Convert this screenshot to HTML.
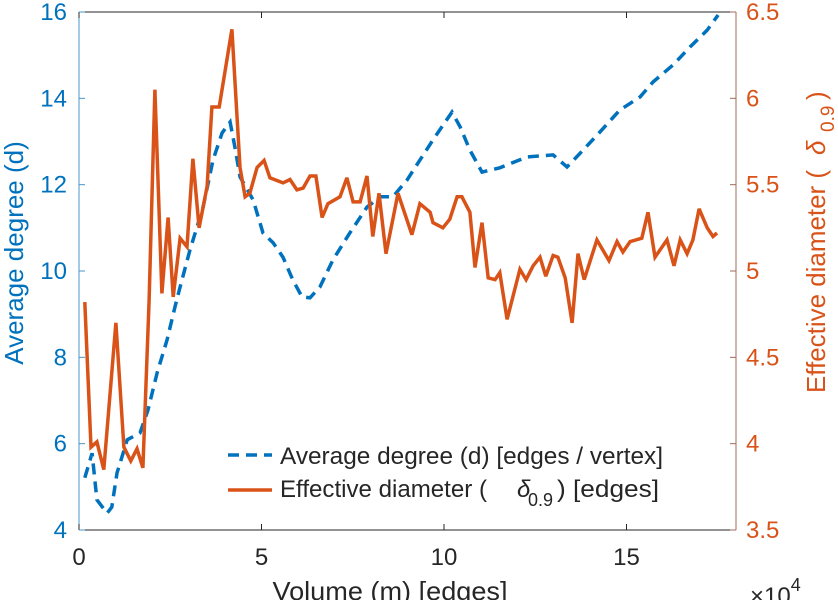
<!DOCTYPE html>
<html><head><meta charset="utf-8"><style>
body{margin:0;background:#fff;}
svg{display:block;font-family:"Liberation Sans",sans-serif;}
</style></head><body>
<svg id="chart" width="838" height="600" xmlns="http://www.w3.org/2000/svg"></svg>
<script>
const volX=[0.16,0.36,0.49,0.77,0.90,1.04,1.32,1.67,1.89,2.14,2.41,2.63,2.77,3.04,3.40,3.67,3.92,4.14,4.27,4.41,4.77,5.04,5.32,5.59,5.86,6.11,6.33,6.60,6.96,7.42,7.89,8.25,8.60,8.99,9.34,9.70,10.22,10.44,10.71,11.04,11.53,12.27,12.99,13.37,13.81,14.27,14.82,15.37,15.73,16.27,16.74,17.21,17.51];
const avgDegree=[5.21,5.78,4.70,4.39,4.53,5.32,6.09,6.25,6.78,7.64,8.40,9.17,9.63,10.49,11.48,12.57,13.20,13.45,12.87,12.18,11.65,10.88,10.65,10.32,9.79,9.40,9.38,9.63,10.26,10.88,11.48,11.72,11.72,12.11,12.57,13.04,13.68,13.34,12.80,12.29,12.39,12.64,12.69,12.41,12.80,13.22,13.73,14.03,14.38,14.77,15.19,15.58,15.93];
const diamX=[0.16,0.33,0.49,0.68,1.01,1.23,1.42,1.59,1.75,1.92,2.08,2.27,2.44,2.58,2.77,2.96,3.12,3.29,3.51,3.64,3.84,4.19,4.41,4.55,4.68,4.88,5.07,5.23,5.59,5.78,5.97,6.14,6.33,6.49,6.66,6.82,7.15,7.34,7.51,7.70,7.89,8.05,8.22,8.41,8.74,9.12,9.34,9.62,9.70,9.97,10.16,10.36,10.49,10.71,10.85,11.04,11.21,11.40,11.53,11.73,12.08,12.25,12.44,12.63,12.79,12.99,13.12,13.32,13.51,13.67,13.84,14.19,14.52,14.74,14.90,15.10,15.42,15.59,15.78,16.11,16.30,16.47,16.66,16.82,16.99,17.21,17.37,17.48];
const effDiameter=[4.82,3.98,4.01,3.85,4.70,3.98,3.90,3.97,3.86,4.83,6.05,4.87,5.31,4.85,5.19,5.14,5.65,5.25,5.49,5.95,5.95,6.40,5.60,5.43,5.45,5.60,5.64,5.54,5.51,5.53,5.47,5.48,5.55,5.55,5.31,5.39,5.43,5.54,5.40,5.40,5.55,5.20,5.45,5.10,5.45,5.21,5.39,5.34,5.28,5.25,5.30,5.43,5.43,5.34,5.02,5.28,4.96,4.95,4.99,4.72,5.01,4.95,5.03,5.08,4.97,5.09,5.08,4.96,4.70,5.10,4.95,5.18,5.06,5.17,5.11,5.17,5.19,5.34,5.08,5.18,5.03,5.18,5.10,5.18,5.36,5.25,5.20,5.22];
const xTicks=[0,5,10,15];
const leftTicks=[4,6,8,10,12,14,16];
const rightTicks=[3.5,4,4.5,5,5.5,6,6.5];
const rightTickLabels=["3.5","4","4.5","5","5.5","6","6.5"];

const L=79,R=736,T=12,B=530;
const sx=v=>L+(v-0)/(18-0)*(R-L);
const syL=v=>B-(v-4)/(16-4)*(B-T);
const syR=v=>B-(v-3.5)/(6.5-3.5)*(B-T);
const svg=document.getElementById('chart');
const NS='http://www.w3.org/2000/svg';
function mk(tag,attrs,parent){const e=document.createElementNS(NS,tag);for(const k in attrs)e.setAttribute(k,attrs[k]);(parent||svg).appendChild(e);return e;}
const BLUE='#0072BD',ORANGE='#D95319';

let e;
e=mk('line',{x1:L,y1:T,x2:R,y2:T,stroke:'#262626','stroke-width':1});


e=mk('line',{x1:L,y1:B,x2:R,y2:B,stroke:'#262626','stroke-width':1});


e=mk('line',{x1:L,y1:T,x2:L,y2:B,stroke:'#4a94cc','stroke-width':1});


e=mk('line',{x1:R,y1:T,x2:R,y2:B,stroke:'#a06a60','stroke-width':1});



xTicks.forEach(v=>{
  mk('line',{x1:sx(v),y1:B,x2:sx(v),y2:B-6,stroke:'#262626'});
  mk('line',{x1:sx(v),y1:T,x2:sx(v),y2:T+6,stroke:'#262626'});
  const t=mk('text',{x:sx(v),y:B+35,'text-anchor':'middle','font-size':24,fill:'#262626'});
  t.textContent=v;
  
  
});
leftTicks.forEach(v=>{
  mk('line',{x1:L,y1:syL(v),x2:L+6,y2:syL(v),stroke:'#4a94cc'});
  const t=mk('text',{x:L-12,y:syL(v)+8,'text-anchor':'end','font-size':24,fill:BLUE});
  t.textContent=v;
  
  
});
rightTicks.forEach((v,i)=>{
  mk('line',{x1:R,y1:syR(v),x2:R-6,y2:syR(v),stroke:'#a06a60'});
  const t=mk('text',{x:R+10,y:syR(v)+8,'text-anchor':'start','font-size':24,fill:ORANGE});
  t.textContent=rightTickLabels[i];
  
  
});

const bp=volX.map((x,i)=>sx(x).toFixed(1)+','+syL(avgDegree[i]).toFixed(1)).join(' ');
e=mk('polyline',{points:bp,fill:'none',stroke:BLUE,'stroke-width':3.5,'stroke-dasharray':'11 7'});


const op=diamX.map((x,i)=>sx(x).toFixed(1)+','+syR(effDiameter[i]).toFixed(1)).join(' ');
e=mk('polyline',{points:op,fill:'none',stroke:ORANGE,'stroke-width':3.5,'stroke-linejoin':'miter','stroke-miterlimit':3});


</script>
<svg width="838" height="600" style="position:absolute;left:0;top:0" xmlns="http://www.w3.org/2000/svg" font-family="Liberation Sans, sans-serif">
  <g>
    <line x1="228" y1="455" x2="272" y2="455" stroke="#0072BD" stroke-width="3.5" stroke-dasharray="11 7"/>
    <text x="280" y="464" font-size="24" textLength="383" lengthAdjust="spacingAndGlyphs" fill="#262626">Average degree (d) [edges / vertex]</text>
    <line x1="228" y1="490" x2="272" y2="490" stroke="#D95319" stroke-width="3.5"/>
    <g font-size="24" fill="#262626">
      <text x="280" y="497" textLength="207" lengthAdjust="spacingAndGlyphs">Effective diameter (</text>
      <text x="517" y="497" font-style="italic">δ</text>
      <text x="528" y="506" font-size="18">0.9</text>
      <text x="557" y="497" textLength="102" lengthAdjust="spacingAndGlyphs">) [edges]</text>
    </g>
  </g>
  <text x="390" y="600" text-anchor="middle" font-size="26" textLength="235" lengthAdjust="spacingAndGlyphs" fill="#262626">Volume (m) [edges]</text>
  <text x="750" y="604" font-size="24" fill="#262626">×10<tspan font-size="18" dy="-13">4</tspan></text>
  <text transform="translate(23,253) rotate(-90)" text-anchor="middle" font-size="26" fill="#0072BD">Average degree (d)</text>
  <g transform="translate(825,393) rotate(-90)" font-size="26" fill="#D95319">
    <text x="0" y="0" textLength="223" lengthAdjust="spacingAndGlyphs">Effective diameter (</text>
    <text x="238" y="0" font-style="italic">δ</text>
    <text x="261" y="9" font-size="19">0.9</text>
    <text x="293" y="0">)</text>
  </g>
</svg>
</body></html>
